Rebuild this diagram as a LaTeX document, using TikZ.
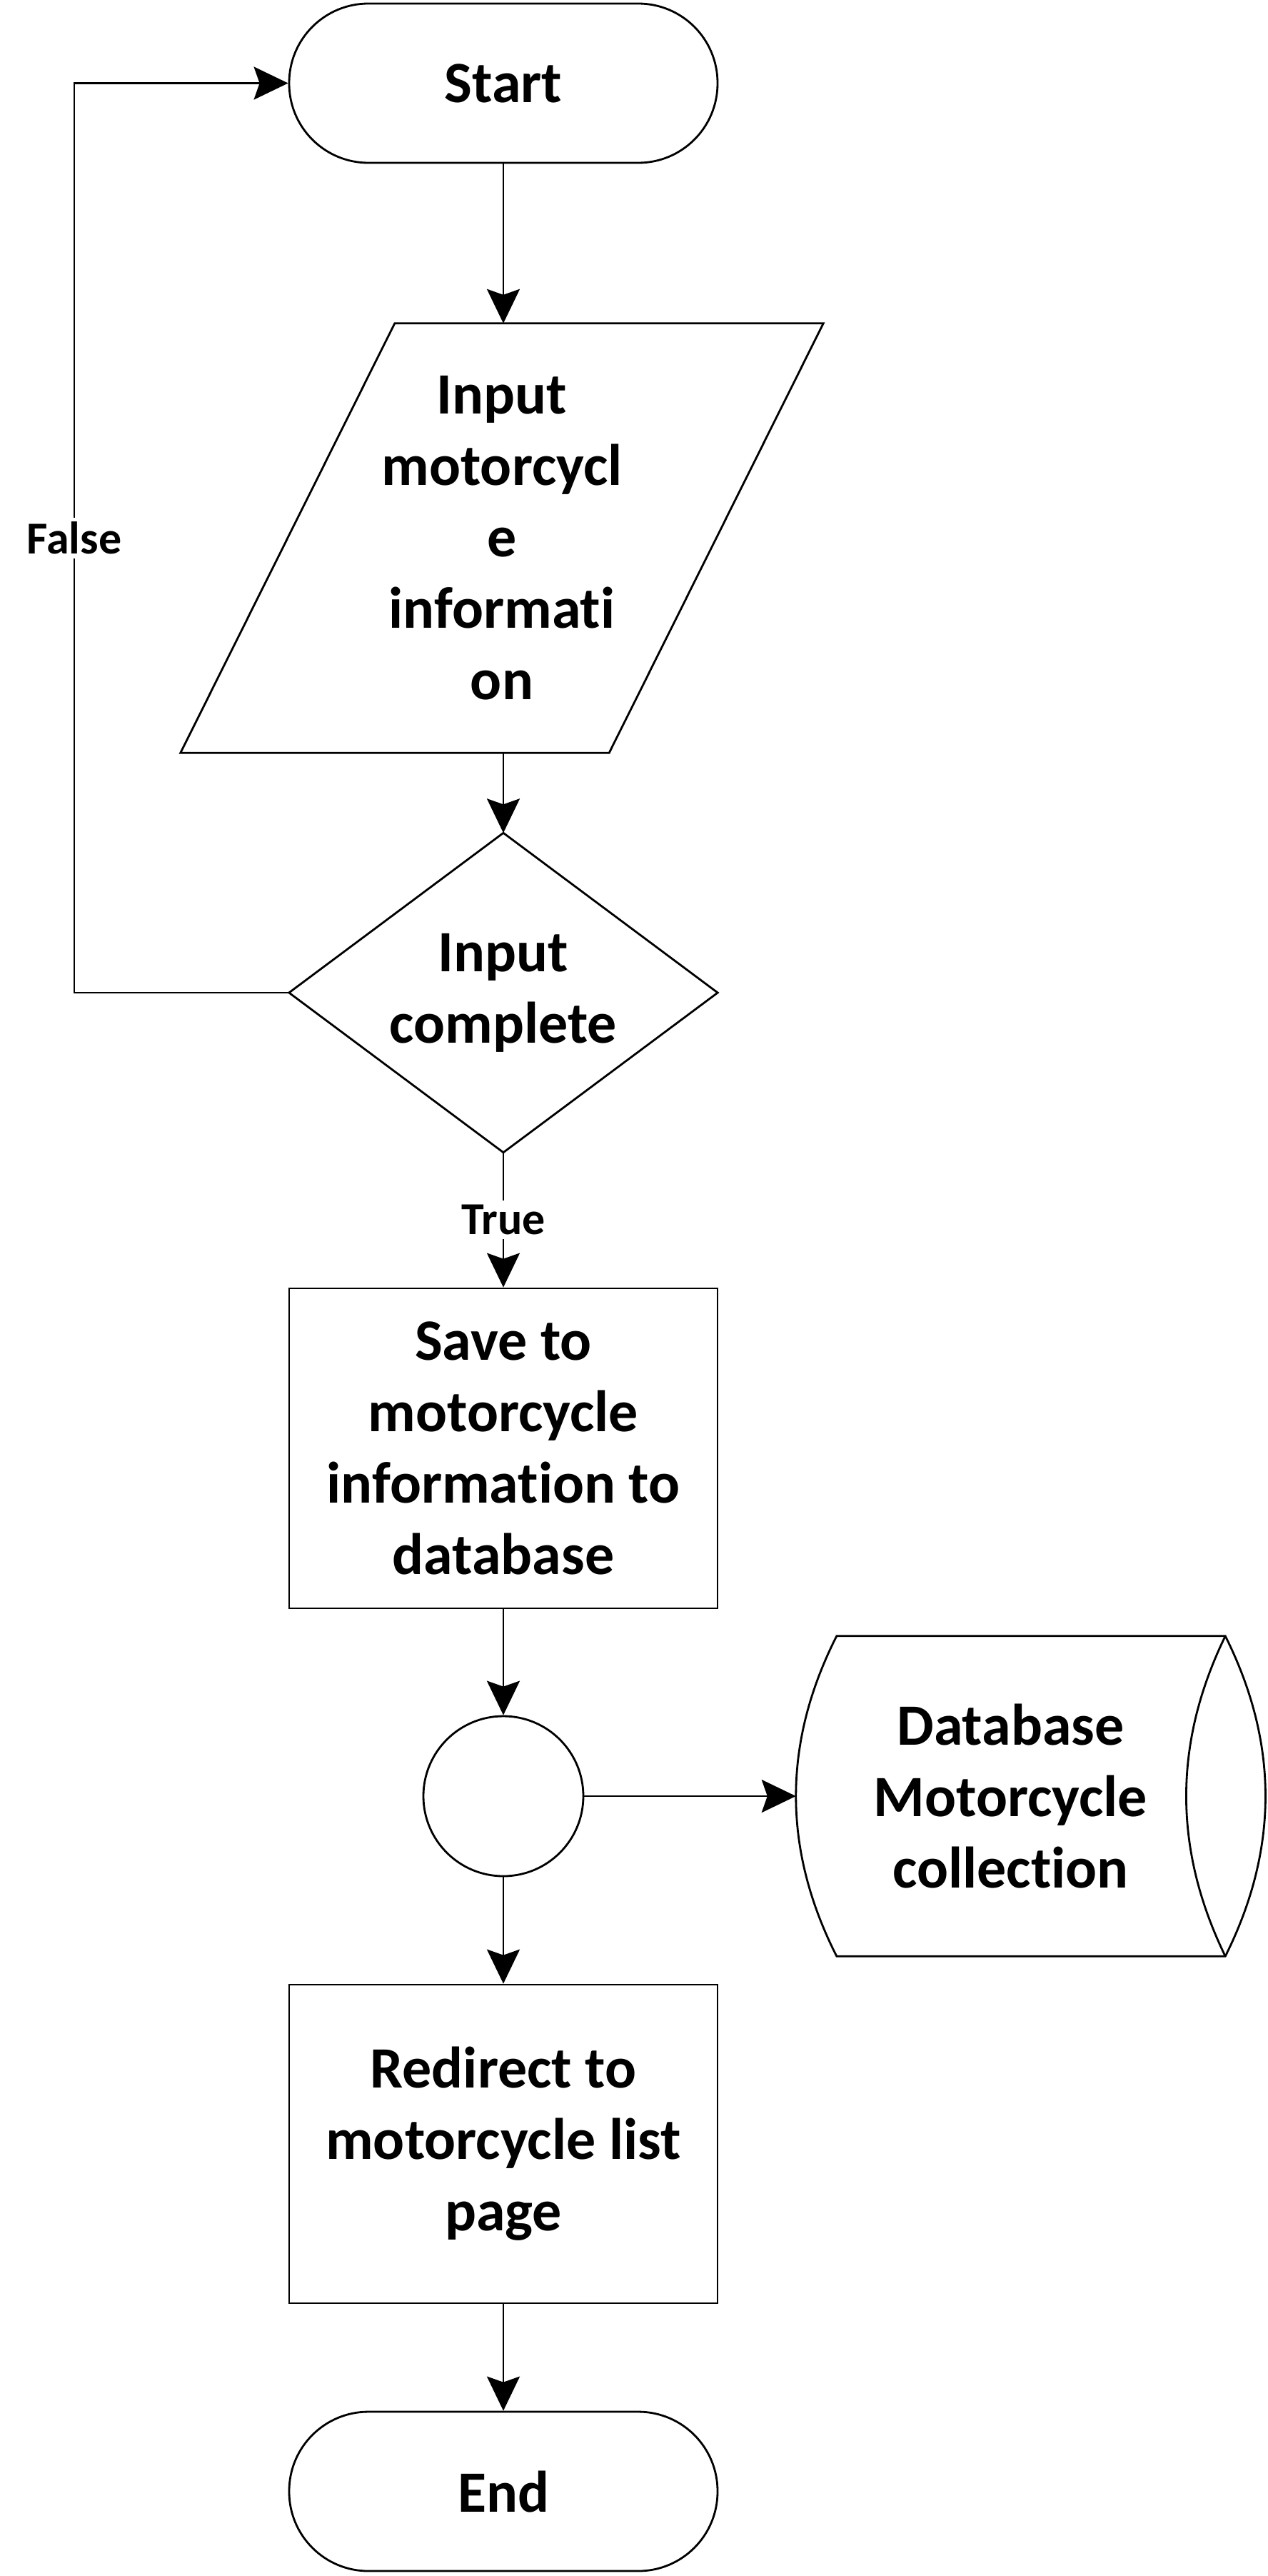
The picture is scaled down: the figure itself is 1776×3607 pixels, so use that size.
\documentclass[tikz,border=0pt]{standalone}
\usepackage{fontspec}
\setmainfont{Carlito}[Ligatures=NoCommon,RawFeature={-liga;-clig;-dlig}]
\usetikzlibrary{arrows.meta,calc}
\begin{document}
\begin{tikzpicture}[x=1pt,y=-1pt,
  shp/.style={draw=black,line width=2.8pt,line join=miter},
  box/.style={shp,rectangle,inner sep=0pt,align=center,
    font=\bfseries\fontsize{82}{100}\selectfont,minimum width=600pt},
  hidden/.style={rectangle,inner sep=0pt,align=center,
    font=\bfseries\fontsize{82}{100}\selectfont},
  term/.style={box,rounded corners=111pt,minimum height=223pt},
  arr/.style={draw=black,line width=2.8pt,-{Stealth[length=48pt,width=46pt,inset=8pt]}},
  lbl/.style={fill=white,inner sep=6pt,font=\bfseries\fontsize{64}{78}\selectfont}]
\useasboundingbox (0,0) rectangle (1776,3607);
\fill[white] (0,0) rectangle (1776,3607);

% nodes
\node[term] (start) at (705,116.5) {Start};
\node[hidden,minimum width=900pt,minimum height=601pt] (inp) at (703,753.5)
  {Input\\motorcycl\\e\\informati\\on};
\node[hidden,minimum width=600pt,minimum height=447pt] (dec) at (705,1390)
  {Input\\complete};
\node[box,minimum height=448pt] (save) at (705,2028)
  {Save to\\motorcycle\\information to\\database};
\node[shp,circle,minimum size=224pt,inner sep=0pt] (join) at (705,2515) {};
\node[hidden,minimum width=601pt,minimum height=448pt] (db) at (1415.5,2515)
  {Database\\Motorcycle\\collection};
\node[box,minimum height=446pt] (redir) at (705,3002)
  {Redirect to\\motorcycle list\\page};
\node[term] (end) at (705,3488.5) {End};
\coordinate (lp) at (104,1390);

% outlines of hand-drawn shapes
\draw[shp] ($(inp.north west)+(300,0)$) -- (inp.north east)
  -- ($(inp.south east)+(-300,0)$) -- (inp.south west) -- cycle;
\draw[shp] (dec.north) -- (dec.east) -- (dec.south) -- (dec.west) -- cycle;
\draw[shp] ($(db.north west)+(57,0)$) -- (db.north east)
  .. controls ($(db.north east)+(75,150)$) and ($(db.south east)+(75,-150)$) .. (db.south east)
  -- ($(db.south west)+(57,0)$)
  .. controls ($(db.south west)+(-19,-150)$) and ($(db.north west)+(-19,150)$) .. cycle;
\draw[shp] (db.north east)
  .. controls ($(db.north east)+(-73,150)$) and ($(db.south east)+(-73,-150)$) .. (db.south east);

% connectors
\draw[arr] (start.south) -- (start.south |- inp.north);
\draw[arr] (dec.north |- inp.south) -- (dec.north);
\draw[arr] (dec.south) -- node[lbl] {True} (save.north);
\draw[arr] (save.south) -- (join.north);
\draw[arr] (join.east) -- (db.west);
\draw[arr] (join.south) -- (redir.north);
\draw[arr] (redir.south) -- (end.north);
\draw[arr] (dec.west) -- (lp) |- node[lbl,pos=0.25] {False} (start.west);
\end{tikzpicture}
\end{document}
